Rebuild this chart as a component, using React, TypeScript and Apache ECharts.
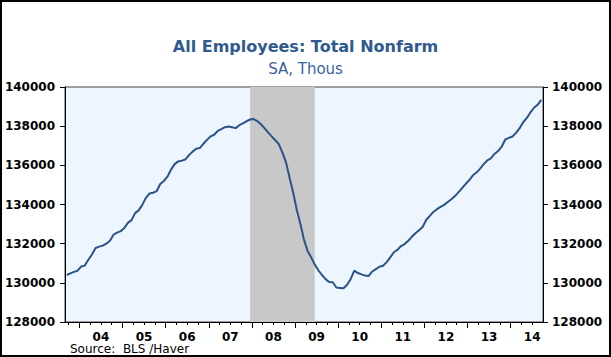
import React, { useEffect, useRef } from "react";
import * as echarts from "echarts";

// Total nonfarm employment, SA, thousands — monthly, Sep 2003 .. Sep 2014
const START_YEAR = 2003;
const START_MONTH = 9;
const emp2003 = [130400, 130480, 130560, 130620];
const emp2004 = [130830, 130880, 131180, 131450, 131780, 131850, 131900, 132000, 132150, 132460, 132560, 132640];
const emp2005 = [132800, 133060, 133200, 133560, 133700, 133980, 134340, 134560, 134600, 134680, 135050, 135200];
const emp2006 = [135420, 135780, 136060, 136200, 136240, 136300, 136520, 136700, 136850, 136880, 137100, 137300];
const emp2007 = [137480, 137560, 137760, 137850, 137950, 137980, 137940, 137900, 138050, 138140, 138250, 138340];
const emp2008 = [138360, 138260, 138100, 137900, 137680, 137480, 137280, 137080, 136650, 136150, 135350, 134600];
const emp2009 = [133720, 133000, 132200, 131620, 131300, 130930, 130640, 130400, 130190, 130040, 130030, 129760];
const emp2010 = [129740, 129720, 129900, 130200, 130620, 130500, 130430, 130370, 130350, 130580, 130700, 130820];
const emp2011 = [130870, 131060, 131300, 131560, 131680, 131880, 131980, 132150, 132350, 132530, 132680, 132850];
const emp2012 = [133210, 133420, 133620, 133760, 133880, 133980, 134130, 134270, 134430, 134630, 134840, 135050];
const emp2013 = [135250, 135490, 135630, 135830, 136060, 136250, 136350, 136580, 136730, 136950, 137320, 137400];
const emp2014 = [137470, 137660, 137900, 138200, 138420, 138700, 138940, 139090, 139340];

const employment = [
  ...emp2003, ...emp2004, ...emp2005, ...emp2006, ...emp2007, ...emp2008,
  ...emp2009, ...emp2010, ...emp2011, ...emp2012, ...emp2013, ...emp2014,
];

// Recession (NBER): Dec 2007 – Jun 2009
const recession = { startYear: 2007, startMonth: 12, endYear: 2009, endMonth: 6 };

const yearLabels = ["04", "05", "06", "07", "08", "09", "10", "11", "12", "13", "14"];
const yTicks = { min: 128000, max: 140000, interval: 2000 };
const X_MIN = 2003 + 8 / 12; // Sep 1 2003
const X_MAX = 2014 + 9 / 12; // Oct 1 2014

const monthPos = (year: number, month: number) => year + (month - 0.5) / 12;

const FONT = "'DejaVu Sans', sans-serif";

export default function App() {
  const ref = useRef<HTMLDivElement>(null);

  useEffect(() => {
    if (!ref.current) return;
    const chart = echarts.init(ref.current, undefined, { renderer: "svg" });

    const seriesData = employment.map((v, i) => {
      const idx = START_MONTH - 1 + i;
      const y = START_YEAR + Math.floor(idx / 12);
      const m = (idx % 12) + 1;
      return [monthPos(y, m), v];
    });

    const labelValues = yearLabels.map((l) => 2000 + Number(l) + 0.5);
    const quarterTicks: number[] = [];
    const yearTicks: number[] = [];
    for (let y = 2003; y <= 2015; y++) {
      for (let q = 0; q < 4; q++) {
        const v = y + q / 4;
        if (v > X_MIN && v < X_MAX) {
          if (q === 0) yearTicks.push(v);
          else quarterTicks.push(v);
        }
      }
    }

    const yAxisBase = {
      type: "value",
      min: yTicks.min,
      max: yTicks.max,
      interval: yTicks.interval,
      splitLine: { show: false },
      axisLine: { show: true, lineStyle: { color: "#000", width: 1 } },
      axisTick: { show: true, length: 5, lineStyle: { color: "#000" } },
      axisLabel: {
        color: "#000",
        fontFamily: FONT,
        fontWeight: "bold",
        fontSize: 12,
        margin: 10,
        formatter: (v: number) => String(v),
      },
    };

    chart.setOption({
      animation: false,
      backgroundColor: "#fff",
      title: [
        {
          text: "All Employees: Total Nonfarm",
          left: "center",
          top: 33,
          textStyle: { color: "#2F5A8E", fontFamily: FONT, fontWeight: "bold", fontSize: 16 },
        },
        {
          text: "SA, Thous",
          left: "center",
          top: 56,
          textStyle: { color: "#3A62A0", fontFamily: FONT, fontWeight: "normal", fontSize: 15 },
        },
      ],
      grid: {
        left: 65,
        top: 87,
        width: 478,
        height: 235,
        show: true,
        backgroundColor: "#EDF5FE",
        borderColor: "#444",
        borderWidth: 1,
      },
      xAxis: [
        {
          type: "value",
          min: X_MIN,
          max: X_MAX,
          position: "bottom",
          splitLine: { show: false },
          axisLine: { show: true, onZero: false, lineStyle: { color: "#000", width: 1 } },
          axisTick: { show: true, length: 3, customValues: quarterTicks, lineStyle: { color: "#000" } },
          axisLabel: {
            customValues: labelValues,
            formatter: (v: number) => String(Math.floor(v) % 100).padStart(2, "0"),
            color: "#000",
            fontFamily: FONT,
            fontWeight: "bold",
            fontSize: 12,
            lineHeight: 11,
            margin: 9,
          },
        },
        {
          type: "value",
          min: X_MIN,
          max: X_MAX,
          position: "bottom",
          splitLine: { show: false },
          axisLine: { show: false, onZero: false },
          axisTick: { show: true, length: 6, customValues: yearTicks, lineStyle: { color: "#000" } },
          axisLabel: { show: false },
        },
      ],
      yAxis: [
        { ...yAxisBase, position: "left" },
        { ...yAxisBase, position: "right", axisLabel: { ...yAxisBase.axisLabel, margin: 9 } },
      ],
      graphic: [
        {
          type: "text",
          left: 70,
          top: 343,
          style: { text: "Source:  BLS /Haver", fill: "#000", font: `12px ${FONT}`, lineHeight: 11 },
        },
        {
          type: "rect",
          shape: { x: 1, y: 1, width: 609, height: 355 },
          style: { fill: "none", stroke: "#000", lineWidth: 2 },
          silent: true,
        },
      ],
      series: [
        {
          type: "line",
          xAxisIndex: 0,
          yAxisIndex: 0,
          data: seriesData,
          showSymbol: false,
          lineStyle: { color: "#2A5389", width: 2 },
          markArea: {
            silent: true,
            itemStyle: { color: "#C8C8C8", opacity: 1 },
            data: [
              [
                { xAxis: monthPos(recession.startYear, recession.startMonth) },
                { xAxis: monthPos(recession.endYear, recession.endMonth) },
              ],
            ],
          },
        },
      ],
    });

    return () => chart.dispose();
  }, []);

  return (
    <div
      ref={ref}
      style={{ position: "absolute", left: 0, top: 0, width: 611, height: 357 }}
    />
  );
}
